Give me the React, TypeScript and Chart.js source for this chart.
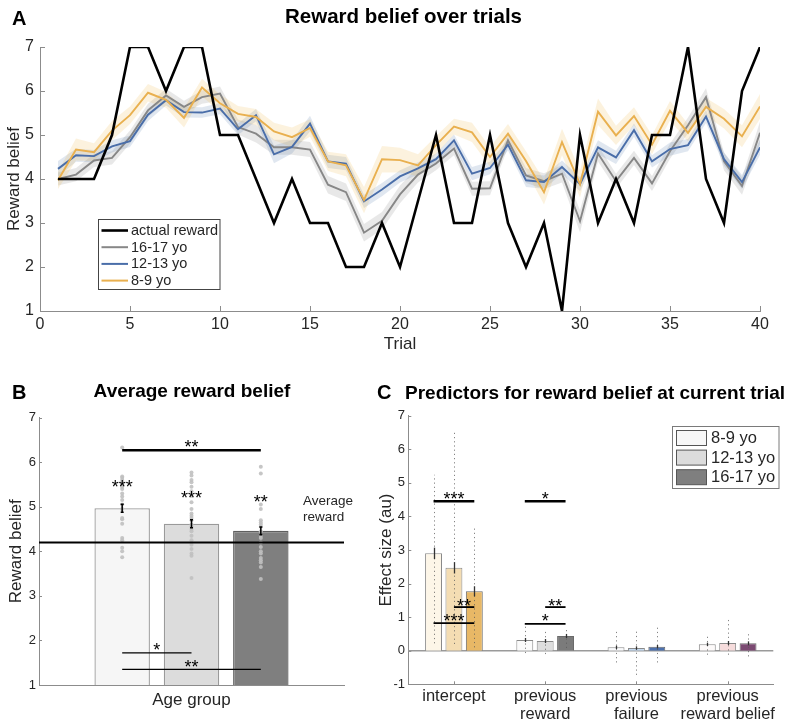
import React, { useEffect, useRef } from 'react';
import { Chart, registerables } from 'chart.js';

Chart.register(...registerables);

const FONT = '"Liberation Sans", Arial, Helvetica, sans-serif';
const TEXT = '#262626';
const AXIS = '#8c8c8c';

// ---------------- Panel A data ----------------
const trials = [1, 2, 3, 4, 5, 6, 7, 8, 9, 10, 11, 12, 13, 14, 15, 16, 17, 18, 19, 20, 21, 22, 23, 24, 25, 26, 27, 28, 29, 30, 31, 32, 33, 34, 35, 36, 37, 38, 39, 40];
const actualReward = [4, 4, 4, 5, 7, 7, 6, 7, 7, 5, 5, 4, 3, 4, 3, 3, 2, 2, 3, 2, 3.5, 5, 3, 3, 5, 3, 2, 3, 1, 5, 3, 4, 3, 5, 5, 7, 4, 3, 6, 7];
const belief1617 = [4.0, 4.1, 4.42, 4.48, 4.95, 5.56, 5.9, 5.64, 5.86, 5.94, 5.18, 5.03, 4.72, 4.72, 4.67, 3.87, 3.7, 2.78, 3.05, 3.65, 4.1, 4.35, 4.69, 3.78, 3.79, 4.88, 4.08, 3.95, 4.12, 3.04, 4.58, 3.95, 4.48, 3.9, 4.63, 5.22, 5.86, 4.4, 3.84, 5.05];
const belief1213 = [4.23, 4.54, 4.52, 4.74, 4.86, 5.46, 5.79, 5.52, 5.51, 5.6, 5.13, 5.45, 4.56, 4.73, 5.26, 4.4, 4.35, 3.49, 3.76, 4.06, 4.24, 4.45, 4.88, 4.12, 4.25, 4.78, 3.97, 3.93, 4.27, 3.88, 4.72, 4.49, 5.11, 4.4, 4.68, 4.77, 5.42, 4.45, 3.93, 4.72];
const belief89 = [3.97, 4.67, 4.61, 5.1, 5.45, 5.96, 5.8, 5.39, 6.08, 5.72, 5.48, 5.41, 5.08, 4.95, 5.16, 4.4, 4.31, 3.52, 4.45, 4.43, 4.31, 4.77, 5.19, 5.06, 4.5, 5.03, 4.41, 3.7, 4.84, 3.88, 5.53, 4.99, 5.43, 4.78, 5.55, 5.05, 5.64, 5.37, 4.97, 5.65];
const sem1617 = [0.15, 0.15, 0.15, 0.15, 0.15, 0.15, 0.15, 0.14, 0.15, 0.16, 0.17, 0.2, 0.17, 0.17, 0.17, 0.2, 0.2, 0.2, 0.2, 0.2, 0.18, 0.15, 0.15, 0.16, 0.16, 0.16, 0.17, 0.18, 0.2, 0.25, 0.18, 0.17, 0.16, 0.17, 0.17, 0.18, 0.2, 0.2, 0.2, 0.25];
const sem1213 = [0.18, 0.15, 0.14, 0.14, 0.13, 0.14, 0.12, 0.12, 0.12, 0.13, 0.13, 0.14, 0.2, 0.15, 0.18, 0.15, 0.15, 0.15, 0.15, 0.14, 0.14, 0.13, 0.13, 0.15, 0.14, 0.13, 0.15, 0.15, 0.15, 0.16, 0.16, 0.15, 0.15, 0.14, 0.15, 0.14, 0.15, 0.15, 0.16, 0.17];
const sem89 = [0.2, 0.25, 0.2, 0.22, 0.2, 0.2, 0.18, 0.22, 0.2, 0.2, 0.18, 0.18, 0.2, 0.22, 0.2, 0.22, 0.25, 0.3, 0.3, 0.28, 0.25, 0.2, 0.18, 0.22, 0.22, 0.22, 0.22, 0.28, 0.3, 0.3, 0.3, 0.22, 0.2, 0.22, 0.22, 0.2, 0.2, 0.22, 0.25, 0.28];
const seriesLabelsA = ['actual reward', '16-17 yo', '12-13 yo', '8-9 yo'];

// ---------------- Panel B data ----------------
const ageGroupPositions = [1, 2, 3];
const meanBelief = [4.97, 4.62, 4.46];
const semBelief = [0.09, 0.09, 0.085];
const averageReward = 4.2;
const dots89 = [6.33, 5.68, 5.65, 5.6, 5.55, 5.5, 5.45, 5.4, 5.3, 5.23, 5.15, 5.05, 4.95, 4.75, 4.72, 4.62, 4.3, 4.25, 4.08, 4.0, 3.87];
const dots1213 = [5.77, 5.7, 5.6, 5.55, 5.45, 5.35, 5.25, 5.1, 4.95, 4.85, 4.8, 4.75, 4.7, 4.6, 4.55, 4.5, 4.45, 4.35, 4.25, 4.15, 4.05, 3.95, 3.9, 3.4];
const dots1617 = [5.9, 5.75, 5.05, 4.95, 4.7, 4.65, 4.6, 4.55, 4.45, 4.35, 4.3, 4.2, 4.1, 4.0, 3.95, 3.85, 3.8, 3.75, 3.65, 3.38];
const starsB = [
  { group: 1, y: 5.54, label: '***' },
  { group: 2, y: 5.29, label: '***' },
  { group: 3, y: 5.21, label: '**' },
];
const sigB = [
  { from: 1, to: 3, y: 6.27, labelY: 6.43, label: '**', width: 2.4 },
  { from: 1, to: 2, y: 1.72, labelY: 1.88, label: '*', width: 1.4 },
  { from: 1, to: 3, y: 1.35, labelY: 1.5, label: '**', width: 1.4 },
];

// ---------------- Panel C data ----------------
const predictorLabels = ['intercept', ['previous', 'reward'], ['previous', 'failure'], ['previous', 'reward belief']];
const ageGroupsC = ['8-9 yo', '12-13 yo', '16-17 yo'];
const effect89 = [2.9, 0.32, 0.1, 0.19];
const effect1213 = [2.47, 0.29, 0.08, 0.23];
const effect1617 = [1.77, 0.44, 0.12, 0.22];
const semC89 = [0.17, 0.06, 0.05, 0.05];
const semC1213 = [0.17, 0.06, 0.05, 0.06];
const semC1617 = [0.15, 0.06, 0.05, 0.06];
const rangeMin89 = [0.22, -0.07, -0.35, -0.12];
const rangeMax89 = [5.24, 0.82, 0.64, 0.44];
const rangeMin1213 = [0.2, -0.1, -0.72, -0.12];
const rangeMax1213 = [6.5, 0.62, 0.64, 0.92];
const rangeMin1617 = [0.1, 0.08, -0.35, -0.17];
const rangeMax1617 = [3.67, 0.67, 0.74, 0.56];
const sigC = [
  { cat: 0, from: 0, to: 2, y: 4.45, labelY: 4.66, label: '***', width: 2.6 },
  { cat: 1, from: 0, to: 2, y: 4.45, labelY: 4.66, label: '*', width: 2.6 },
  { cat: 0, from: 1, to: 2, y: 1.3, labelY: 1.46, label: '**', width: 1.8 },
  { cat: 0, from: 0, to: 2, y: 0.82, labelY: 1.0, label: '***', width: 1.8 },
  { cat: 1, from: 1, to: 2, y: 1.3, labelY: 1.46, label: '**', width: 1.8 },
  { cat: 1, from: 0, to: 2, y: 0.8, labelY: 1.0, label: '*', width: 1.8 },
];

// ---------------- styles ----------------
const BLACK = '#000000';
const ORANGE = '#e9b04f';
const BLUE = '#4a6ea9';
const GREY = '#878787';
const ORANGE_FILL = 'rgba(236,176,62,0.17)';
const BLUE_FILL = 'rgba(74,110,169,0.17)';
const GREY_FILL = 'rgba(120,120,120,0.17)';
const B_FILL = ['#f6f6f6', '#dcdcdc', '#7f7f7f'];
const B_BORDER = ['#9a9a9a', '#9a9a9a', '#5f5f5f'];
const C_FILL = [
  ['#fdf6e8', '#fbfbfb', '#f9fafc', '#fdfafa'],
  ['#f4ddb3', '#dedede', '#c3daf2', '#f6dcdc'],
  ['#e8b866', '#7b7b7b', '#4d71ae', '#7b4a72'],
];
const C_BORDER = ['#8a8a8a', '#8a8a8a', '#6a6a6a'];
const LEGEND_C_FILL = ['#f7f7f7', '#dcdcdc', '#7f7f7f'];

function drawTickMarks(chart: any, axisId: string, len: number) {
  const s = chart.scales[axisId];
  const { ctx, chartArea: ca } = chart;
  ctx.save();
  ctx.strokeStyle = AXIS;
  ctx.lineWidth = 1;
  s.ticks.forEach((_: any, i: number) => {
    const p = Math.round(s.getPixelForTick(i)) + 0.5;
    ctx.beginPath();
    if (s.isHorizontal()) {
      ctx.moveTo(p, ca.bottom);
      ctx.lineTo(p, ca.bottom - len);
    } else {
      ctx.moveTo(ca.left, p);
      ctx.lineTo(ca.left + len, p);
    }
    ctx.stroke();
  });
  ctx.restore();
}

function drawStars(ctx: any, text: string, cx: number, cy: number, size = 18) {
  ctx.save();
  ctx.font = `${size}px ${FONT}`;
  ctx.fillStyle = '#000';
  ctx.textAlign = 'center';
  ctx.textBaseline = 'alphabetic';
  ctx.fillText(text, cx, cy + 0.57 * size);
  ctx.restore();
}

function hline(ctx: any, x1: number, x2: number, y: number, w: number, color = '#000') {
  ctx.save();
  ctx.strokeStyle = color;
  ctx.lineWidth = w;
  ctx.beginPath();
  ctx.moveTo(x1, y);
  ctx.lineTo(x2, y);
  ctx.stroke();
  ctx.restore();
}

const fixedY = (w: number) => (s: any) => {
  s.width = w;
  s.paddingTop = 0;
  s.paddingBottom = 0;
};
const fixedX = (h: number) => (s: any) => {
  s.height = h;
  s.paddingLeft = 0;
  s.paddingRight = 0;
};

// ---------------- Panel A ----------------
function PanelA() {
  const ref = useRef<HTMLCanvasElement>(null);
  useEffect(() => {
    const pts = (ys: number[]) => ys.map((y, i) => ({ x: trials[i], y }));
    const shifted = (ys: number[], s: number[], k: number) => ys.map((y, i) => ({ x: trials[i], y: y + k * s[i] }));
    const line = (label: string, ys: number[], color: string, width: number) => ({
      label, data: pts(ys), borderColor: color, backgroundColor: color, borderWidth: width,
      pointRadius: 0, fill: false, tension: 0,
    });
    const band = (ys: number[], s: number[], fillColor: string) => [
      { label: '', data: shifted(ys, s, 1), borderColor: 'rgba(0,0,0,0)', borderWidth: 0, pointRadius: 0, fill: '+1', backgroundColor: fillColor, tension: 0 },
      { label: '', data: shifted(ys, s, -1), borderColor: 'rgba(0,0,0,0)', borderWidth: 0, pointRadius: 0, fill: false, tension: 0 },
    ];
    const legendItems = [
      { label: seriesLabelsA[0], color: BLACK, width: 2.6 },
      { label: seriesLabelsA[1], color: GREY, width: 2 },
      { label: seriesLabelsA[2], color: BLUE, width: 2 },
      { label: seriesLabelsA[3], color: ORANGE, width: 2 },
    ];
    const plugin = {
      id: 'panelA',
      beforeDatasetsDraw(chart: any) {
        drawTickMarks(chart, 'x', 5);
        drawTickMarks(chart, 'y', 5);
      },
      afterDraw(chart: any) {
        const { ctx } = chart;
        ctx.save();
        ctx.fillStyle = '#fff';
        ctx.fillRect(98.5, 219.5, 121.5, 70);
        ctx.strokeStyle = '#444';
        ctx.lineWidth = 1;
        ctx.strokeRect(98.5, 219.5, 121.5, 70);
        ctx.font = `14.5px ${FONT}`;
        ctx.textBaseline = 'middle';
        ctx.textAlign = 'left';
        legendItems.forEach((it, i) => {
          const y = 230.5 + i * 16.7;
          hline(ctx, 101.5, 128, y, it.width, it.color);
          ctx.fillStyle = TEXT;
          ctx.fillText(it.label, 131, y + 0.5);
        });
        ctx.restore();
      },
    };
    const chart = new Chart(ref.current as HTMLCanvasElement, {
      type: 'line',
      data: {
        datasets: [
          line(seriesLabelsA[0], actualReward, BLACK, 2.6),
          line(seriesLabelsA[3], belief89, ORANGE, 1.9),
          line(seriesLabelsA[2], belief1213, BLUE, 1.9),
          line(seriesLabelsA[1], belief1617, GREY, 1.9),
          ...band(belief89, sem89, ORANGE_FILL),
          ...band(belief1213, sem1213, BLUE_FILL),
          ...band(belief1617, sem1617, GREY_FILL),
        ] as any,
      },
      options: {
        responsive: false,
        animation: false,
        layout: { padding: { left: 0, top: 47, right: 40, bottom: 0 } },
        plugins: { legend: { display: false }, tooltip: { enabled: false } },
        scales: {
          x: {
            type: 'linear', min: 0, max: 40,
            ticks: { stepSize: 5, font: { family: FONT, size: 16 }, color: TEXT, padding: 4, maxRotation: 0 },
            grid: { display: false, drawTicks: false },
            border: { display: true, color: AXIS, width: 1 },
            title: { display: true, text: 'Trial', font: { family: FONT, size: 17 }, color: TEXT, padding: { top: 0, bottom: 5.5 } },
            afterFit: fixedX(49),
          },
          y: {
            min: 1, max: 7,
            ticks: { stepSize: 1, font: { family: FONT, size: 16 }, color: TEXT, padding: 6 },
            grid: { display: false, drawTicks: false },
            border: { display: true, color: AXIS, width: 1 },
            title: { display: true, text: 'Reward belief', font: { family: FONT, size: 17 }, color: TEXT, padding: { top: 4, bottom: 0 } },
            afterFit: fixedY(40),
          },
        },
      } as any,
      plugins: [plugin],
    });
    return () => chart.destroy();
  }, []);
  return <canvas ref={ref} width={800} height={360} style={{ position: 'absolute', left: 0, top: 0 }} />;
}

// ---------------- Panel B ----------------
function PanelB() {
  const ref = useRef<HTMLCanvasElement>(null);
  useEffect(() => {
    const dotGroups = [dots89, dots1213, dots1617];
    const dotPoints = dotGroups.flatMap((g, gi) => g.map((y) => ({ x: ageGroupPositions[gi], y })));
    const plugin = {
      id: 'panelB',
      beforeDatasetsDraw(chart: any) {
        drawTickMarks(chart, 'y', 3);
      },
      afterDatasetsDraw(chart: any) {
        const { ctx, chartArea: ca, scales } = chart;
        const xs = scales.x, ys = scales.y;
        hline(ctx, ca.left, ca.right, ys.getPixelForValue(averageReward), 2);
        ctx.save();
        ctx.strokeStyle = '#000';
        ctx.lineWidth = 1.5;
        meanBelief.forEach((m, i) => {
          const x = xs.getPixelForValue(ageGroupPositions[i]);
          const y1 = ys.getPixelForValue(m - semBelief[i]);
          const y2 = ys.getPixelForValue(m + semBelief[i]);
          ctx.beginPath();
          ctx.moveTo(x, y1); ctx.lineTo(x, y2);
          ctx.moveTo(x - 1.5, y1); ctx.lineTo(x + 1.5, y1);
          ctx.moveTo(x - 1.5, y2); ctx.lineTo(x + 1.5, y2);
          ctx.stroke();
        });
        ctx.restore();
        starsB.forEach((s) => drawStars(ctx, s.label, xs.getPixelForValue(s.group), ys.getPixelForValue(s.y)));
        sigB.forEach((s) => {
          const x1 = xs.getPixelForValue(s.from);
          const x2 = xs.getPixelForValue(s.to);
          hline(ctx, x1, x2, ys.getPixelForValue(s.y), s.width);
          drawStars(ctx, s.label, (x1 + x2) / 2, ys.getPixelForValue(s.labelY));
        });
        ctx.save();
        ctx.font = `13.5px ${FONT}`;
        ctx.fillStyle = TEXT;
        ctx.textBaseline = 'middle';
        ctx.textAlign = 'left';
        ctx.fillText('Average', 303, 121.5);
        ctx.fillText('reward', 303, 137);
        ctx.restore();
      },
    };
    const chart = new Chart(ref.current as HTMLCanvasElement, {
      type: 'bar',
      data: {
        datasets: [
          {
            type: 'scatter', data: dotPoints, pointRadius: 2, pointBorderWidth: 0,
            backgroundColor: 'rgba(192,192,192,0.9)', borderColor: 'rgba(0,0,0,0)', order: 1,
          },
          {
            type: 'bar', data: meanBelief.map((y, i) => ({ x: ageGroupPositions[i], y })),
            backgroundColor: B_FILL, borderColor: B_BORDER, borderWidth: 1.3, base: 1,
            barPercentage: 0.8, categoryPercentage: 1, order: 2,
          },
        ] as any,
      },
      options: {
        responsive: false,
        animation: false,
        layout: { padding: { left: 0, top: 37.7, right: 36, bottom: 0 } },
        plugins: { legend: { display: false }, tooltip: { enabled: false } },
        scales: {
          x: {
            type: 'linear', min: -0.2, max: 4.2, offset: false,
            ticks: { display: false },
            grid: { display: false, drawTicks: false, offset: false },
            border: { display: true, color: AXIS, width: 1 },
            title: { display: true, text: 'Age group', font: { family: FONT, size: 17 }, color: TEXT, padding: { top: 0, bottom: 14 } },
            afterFit: fixedX(40),
          },
          y: {
            min: 1, max: 7, beginAtZero: false,
            ticks: { stepSize: 1, font: { family: FONT, size: 13 }, color: TEXT, padding: 3 },
            grid: { display: false, drawTicks: false },
            border: { display: true, color: AXIS, width: 1 },
            title: { display: true, text: 'Reward belief', font: { family: FONT, size: 17 }, color: TEXT, padding: { top: 6, bottom: 0 } },
            afterFit: fixedY(39),
          },
        },
      } as any,
      plugins: [plugin],
    });
    return () => chart.destroy();
  }, []);
  return <canvas ref={ref} width={380} height={345} style={{ position: 'absolute', left: 0, top: 380 }} />;
}

// ---------------- Panel C ----------------
function PanelC() {
  const ref = useRef<HTMLCanvasElement>(null);
  useEffect(() => {
    const effects = [effect89, effect1213, effect1617];
    const sems = [semC89, semC1213, semC1617];
    const mins = [rangeMin89, rangeMin1213, rangeMin1617];
    const maxs = [rangeMax89, rangeMax1213, rangeMax1617];
    const plugin = {
      id: 'panelC',
      beforeDatasetsDraw(chart: any) {
        const { ctx, chartArea: ca, scales } = chart;
        drawTickMarks(chart, 'y', 3);
        drawTickMarks(chart, 'x', 3);
        hline(ctx, ca.left, ca.right, scales.y.getPixelForValue(0), 1.5, '#9a9a9a');
      },
      afterDatasetsDraw(chart: any) {
        const { ctx, scales } = chart;
        const ys = scales.y;
        const barX = (g: number, c: number) => chart.getDatasetMeta(g).data[c].x;
        ctx.save();
        ctx.strokeStyle = 'rgba(90,90,90,0.75)';
        ctx.lineWidth = 1;
        ctx.setLineDash([1.2, 3]);
        effects.forEach((_, g) => {
          mins[g].forEach((mn, c) => {
            const x = Math.round(barX(g, c)) + 0.5;
            ctx.beginPath();
            ctx.moveTo(x, ys.getPixelForValue(mn));
            ctx.lineTo(x, ys.getPixelForValue(maxs[g][c]));
            ctx.stroke();
          });
        });
        ctx.restore();
        ctx.save();
        ctx.strokeStyle = '#333';
        ctx.lineWidth = 1.3;
        effects.forEach((vals, g) => {
          vals.forEach((v, c) => {
            const x = Math.round(barX(g, c)) + 0.5;
            ctx.beginPath();
            ctx.moveTo(x, ys.getPixelForValue(v - sems[g][c]));
            ctx.lineTo(x, ys.getPixelForValue(v + sems[g][c]));
            ctx.stroke();
          });
        });
        ctx.restore();
        sigC.forEach((s) => {
          const x1 = barX(s.from, s.cat);
          const x2 = barX(s.to, s.cat);
          hline(ctx, x1, x2, ys.getPixelForValue(s.y), s.width);
          drawStars(ctx, s.label, (x1 + x2) / 2, ys.getPixelForValue(s.labelY));
        });
      },
      afterDraw(chart: any) {
        const { ctx } = chart;
        ctx.save();
        ctx.fillStyle = '#fff';
        ctx.fillRect(296.5, 46.5, 106.5, 62);
        ctx.strokeStyle = '#7a7a7a';
        ctx.lineWidth = 1;
        ctx.strokeRect(296.5, 46.5, 106.5, 62);
        ctx.font = `16.5px ${FONT}`;
        ctx.textBaseline = 'middle';
        ctx.textAlign = 'left';
        ageGroupsC.forEach((g, i) => {
          const top = 50.5 + i * 19.6;
          ctx.fillStyle = LEGEND_C_FILL[i];
          ctx.fillRect(300.5, top, 30, 15);
          ctx.strokeStyle = '#555';
          ctx.strokeRect(300.5, top, 30, 15);
          ctx.fillStyle = TEXT;
          ctx.fillText(g, 335, top + 8);
        });
        ctx.restore();
      },
    };
    const chart = new Chart(ref.current as HTMLCanvasElement, {
      type: 'bar',
      data: {
        labels: predictorLabels as any,
        datasets: ageGroupsC.map((g, gi) => ({
          label: g, data: effects[gi], backgroundColor: C_FILL[gi], borderColor: C_BORDER[gi],
          borderWidth: 1, barPercentage: 0.83, categoryPercentage: 0.67,
        })) as any,
      },
      options: {
        responsive: false,
        animation: false,
        layout: { padding: { left: 0, top: 35.7, right: 26.7, bottom: 0 } },
        plugins: { legend: { display: false }, tooltip: { enabled: false } },
        scales: {
          x: {
            offset: true,
            ticks: { font: { family: FONT, size: 16.5, lineHeight: 1.1 }, color: TEXT, padding: 3, maxRotation: 0, autoSkip: false },
            grid: { display: false, drawTicks: false },
            border: { display: true, color: AXIS, width: 1 },
            afterFit: fixedX(40.7),
          },
          y: {
            min: -1, max: 7,
            ticks: { stepSize: 1, font: { family: FONT, size: 13 }, color: TEXT, padding: 3.3 },
            grid: { display: false, drawTicks: false },
            border: { display: true, color: AXIS, width: 1 },
            title: { display: true, text: 'Effect size (au)', font: { family: FONT, size: 17 }, color: TEXT, padding: { top: 0, bottom: 0 } },
            afterFit: fixedY(32.3),
          },
        },
      } as any,
      plugins: [plugin],
    });
    return () => chart.destroy();
  }, []);
  return <canvas ref={ref} width={424} height={345} style={{ position: 'absolute', left: 376, top: 380 }} />;
}

const txt = (extra: any): any => ({
  position: 'absolute', fontFamily: FONT, fontWeight: 'bold', color: '#000',
  lineHeight: '24px', whiteSpace: 'nowrap', ...extra,
});

export default function App() {
  return (
    <div style={{ position: 'absolute', left: 0, top: 0, width: 800, height: 725, background: '#fff', overflow: 'hidden' }}>
      <PanelA />
      <PanelB />
      <PanelC />
      <div style={txt({ left: 12, top: 6, fontSize: 20 })}>A</div>
      <div style={txt({ left: 203.5, top: 3.5, width: 400, textAlign: 'center', fontSize: 20.5 })}>Reward belief over trials</div>
      <div style={txt({ left: 12, top: 380, fontSize: 20 })}>B</div>
      <div style={txt({ left: 42, top: 379, width: 300, textAlign: 'center', fontSize: 19 })}>Average reward belief</div>
      <div style={txt({ left: 377, top: 380, fontSize: 20 })}>C</div>
      <div style={txt({ left: 405, top: 380.5, fontSize: 19 })}>Predictors for reward belief at current trial</div>
    </div>
  );
}
